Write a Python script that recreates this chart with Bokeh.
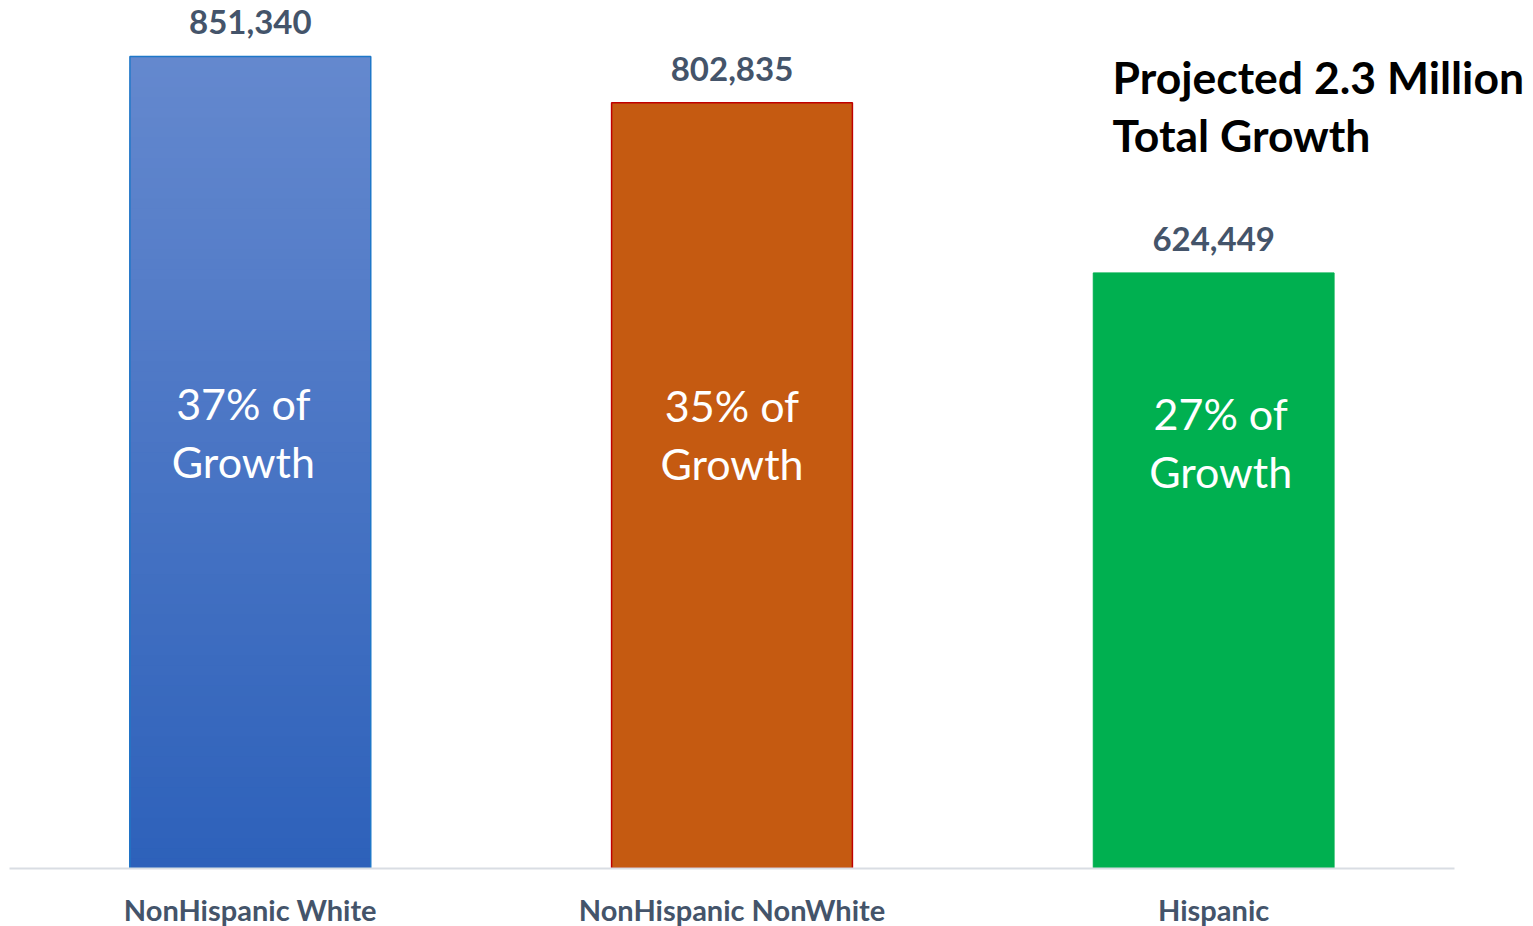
from bokeh.plotting import figure
from bokeh.models import ColumnDataSource, FixedTicker, Label, Range1d
from bokeh.core.properties import value
from bokeh.embed import file_html
from bokeh.resources import INLINE

# ---- data ----
categories = ["NonHispanic White", "NonHispanic NonWhite", "Hispanic"]
growth = [851340, 802835, 624449]
share_labels = ["37% of", "35% of", "27% of"]
title_lines = ["Projected 2.3 Million", "Total Growth"]

FONT = "Lato"
LABEL_COLOR = "#44546A"

xs = [i + 0.5 for i in range(len(categories))]

p = figure(frame_width=1516, frame_height=860, output_backend="svg", toolbar_location=None,
           x_range=Range1d(0, 3.1474), y_range=Range1d(0, 901660),
           min_border_left=9, min_border_right=0, min_border_top=8, min_border_bottom=48)
p.outline_line_color = None
p.grid.visible = False
p.yaxis.visible = False
p.background_fill_color = "white"
p.border_fill_color = "white"

# x axis with category names
ax = p.xaxis[0]
ax.ticker = FixedTicker(ticks=xs)
ax.major_label_overrides = {x: c for x, c in zip(xs, categories)}
ax.bounds = (0, 3)
ax.axis_line_color = "#D9DDE3"
ax.axis_line_width = 2
ax.major_tick_line_color = None
ax.minor_tick_line_color = None
ax.major_label_standoff = 17
ax.major_label_text_font = FONT
ax.major_label_text_font_style = "bold"
ax.major_label_text_font_size = "29px"
ax.major_label_text_color = LABEL_COLOR

W = 0.5

# Blue bar with vertical gradient (overlapping slices of the same bar)
def lerp(c1, c2, t):
    a = [int(c1[i:i + 2], 16) for i in (1, 3, 5)]
    b = [int(c2[i:i + 2], 16) for i in (1, 3, 5)]
    return "#%02x%02x%02x" % tuple(round(a[k] + (b[k] - a[k]) * t) for k in range(3))

N = 80
v0 = growth[0]
tops = [v0 * (N - i) / N for i in range(N)]
cols = [lerp("#2D61BA", "#6488CE", (N - i) / N) for i in range(N)]
p.vbar(x=[xs[0]] * N, bottom=0, top=tops, width=W, fill_color=cols, line_color=None)
p.vbar(x=[xs[0]], top=[v0], width=W, fill_color=None, line_color="#1F77C8", line_width=1.5)

# Orange and green bars
p.vbar(x=[xs[1]], top=[growth[1]], width=W, fill_color="#C55A11", line_color="#C00000", line_width=1.5)
p.vbar(x=[xs[2]], top=[growth[2]], width=W, fill_color="#00B050", line_color="#00B050", line_width=1)

# value labels above bars
src = ColumnDataSource(dict(x=xs, y=growth, t=[f"{v:,}" for v in growth], s=share_labels,
                            g=["Growth"] * 3, dx=[-7, 0, 7], dy1=[-29, -27, -19], dy2=[29, 31, 39]))
p.text(x="x", y="y", text="t", source=src, text_align="center", text_baseline="alphabetic",
       y_offset=-34, text_font=value(FONT), text_font_style="bold", text_font_size="33px",
       text_color=LABEL_COLOR)

# share labels inside bars
mid = 457000
p.text(x="x", y=mid, text="s", source=src, text_align="center", text_baseline="middle",
       x_offset="dx", y_offset="dy1", text_font=value(FONT), text_font_size="43px", text_color="white")
p.text(x="x", y=mid, text="g", source=src, text_align="center", text_baseline="middle",
       x_offset="dx", y_offset="dy2", text_font=value(FONT), text_font_size="43px", text_color="white")

# title block
for i, line in enumerate(title_lines):
    p.add_layout(Label(x=1103, y=792 - 58 * i, x_units="screen", y_units="screen", text=line,
                       text_font=FONT, text_font_style="bold", text_font_size="44.5px",
                       text_color="black", text_baseline="alphabetic", text_align="left"))

open("out.html", "w").write(file_html(p, INLINE))
